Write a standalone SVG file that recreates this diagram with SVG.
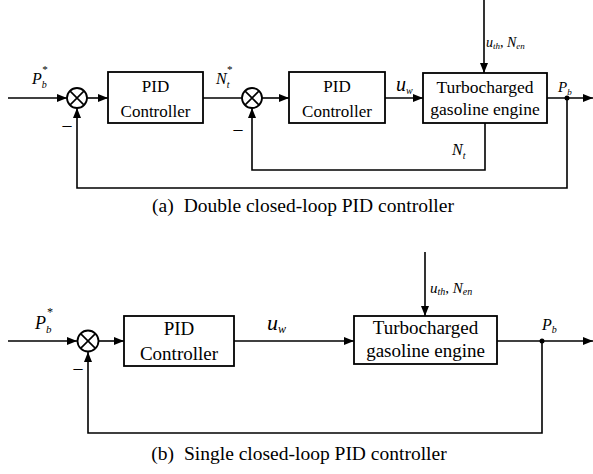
<svg xmlns="http://www.w3.org/2000/svg" width="593" height="474" viewBox="0 0 593 474">
<style>
.ln{fill:none;stroke:#000;stroke-width:1.6}
.ar{fill:none;stroke:#000;stroke-width:1.6;marker-end:url(#ah)}
.bx{fill:#fff;stroke:#000;stroke-width:1.8}
.sj{fill:#fff;stroke:#000;stroke-width:1.8}
.t{font-family:"Liberation Serif","Times New Roman",serif;fill:#000;text-anchor:middle}
.m{font-family:"Liberation Serif","Times New Roman",serif;font-style:italic;fill:#000}
.cap{font-family:"Liberation Serif","Times New Roman",serif;font-size:19.5px;fill:#000;text-anchor:middle}
</style>
<defs>
<marker id="ah" markerWidth="10" markerHeight="8" refX="10" refY="4" orient="auto" markerUnits="userSpaceOnUse">
<path d="M0,0 L10,4 L0,8 Z" fill="#000"/>
</marker>
</defs>
<rect width="593" height="474" fill="#fff"/>

<g id="connectors">
<!-- top diagram -->
<path class="ar" d="M8,98 H67"/>
<path class="ar" d="M87,98 H108"/>
<path class="ln" d="M203,98 H242"/>
<path class="ar" d="M262,98 H289"/>
<path class="ar" d="M385,98 H423"/>
<path class="ar" d="M547,98 H593"/>
<path class="ar" d="M484,0 V73"/>
<path class="ar" d="M567,98 V188 H77 V108"/>
<path class="ar" d="M485,123 V170 H252 V108"/>
<circle cx="567" cy="98" r="2.5" fill="#000"/>
<!-- bottom diagram -->
<path class="ar" d="M8,341 H77"/>
<path class="ar" d="M99,341 H124"/>
<path class="ar" d="M234,341 H354"/>
<path class="ar" d="M497,341 H593"/>
<path class="ar" d="M425,252 V316"/>
<path class="ar" d="M542,341 V433 H88 V352"/>
<circle cx="542" cy="341" r="2.5" fill="#000"/>
</g>

<!-- top diagram nodes -->
<g id="sum1">
<circle class="sj" cx="77" cy="98" r="10"/>
<path class="ln" d="M69.9,90.9 L84.1,105.1 M84.1,90.9 L69.9,105.1"/>
</g>
<g id="pid1">
<rect class="bx" x="108" y="72" width="95" height="51"/>
<text class="t" x="155.5" y="92" font-size="17">PID</text>
<text class="t" x="155.5" y="117" font-size="17">Controller</text>
</g>
<g id="sum2">
<circle class="sj" cx="252" cy="98" r="10"/>
<path class="ln" d="M244.9,90.9 L259.1,105.1 M259.1,90.9 L244.9,105.1"/>
</g>
<g id="pid2">
<rect class="bx" x="289" y="72" width="96" height="51"/>
<text class="t" x="337" y="92" font-size="17">PID</text>
<text class="t" x="337" y="117" font-size="17">Controller</text>
</g>
<g id="engine1">
<rect class="bx" x="423" y="73" width="124" height="50"/>
<text class="t" x="485" y="93" font-size="17.5">Turbocharged</text>
<text class="t" x="485" y="115" font-size="17.5">gasoline engine</text>
</g>

<g id="labels-top">
<text class="m" x="32" y="84" font-size="16">P<tspan font-size="10" dy="4">b</tspan><tspan font-size="11" dx="-5" dy="-15">*</tspan></text>
<text class="m" x="216" y="84" font-size="16">N<tspan font-size="10" dy="4">t</tspan><tspan font-size="11" dx="-3" dy="-15">*</tspan></text>
<text class="m" x="396" y="91" font-size="20">u<tspan font-size="10" dy="3">w</tspan></text>
<text class="m" x="486" y="47" font-size="14">u<tspan font-size="9" dy="2">th</tspan><tspan font-style="normal" dy="-2">, </tspan>N<tspan font-size="9" dy="2">en</tspan></text>
<text class="m" x="558" y="92" font-size="15">P<tspan font-size="9" dy="3">b</tspan></text>
<text class="m" x="452" y="155" font-size="16">N<tspan font-size="10" dy="4">t</tspan></text>
<text class="t" x="67" y="131" font-size="18">–</text>
<text class="t" x="238" y="135" font-size="18">–</text>
</g>

<!-- bottom diagram nodes -->
<g id="sum3">
<circle class="sj" cx="88" cy="341" r="10.5"/>
<path class="ln" d="M80.6,333.6 L95.4,348.4 M95.4,333.6 L80.6,348.4"/>
</g>
<g id="pid3">
<rect class="bx" x="124" y="316" width="110" height="50"/>
<text class="t" x="179" y="335" font-size="19">PID</text>
<text class="t" x="179" y="360" font-size="19">Controller</text>
</g>
<g id="engine2">
<rect class="bx" x="354" y="316" width="143" height="48"/>
<text class="t" x="425.5" y="334" font-size="19">Turbocharged</text>
<text class="t" x="425.5" y="357" font-size="19">gasoline engine</text>
</g>

<g id="labels-bottom">
<text class="m" x="35" y="329" font-size="18">P<tspan font-size="11" dy="4">b</tspan><tspan font-size="12" dx="-5" dy="-17">*</tspan></text>
<text class="m" x="267" y="330" font-size="22">u<tspan font-size="12" dy="3">w</tspan></text>
<text class="m" x="430" y="293" font-size="15">u<tspan font-size="10" dy="2">th</tspan><tspan font-style="normal" dy="-2">, </tspan>N<tspan font-size="10" dy="2">en</tspan></text>
<text class="m" x="542" y="330" font-size="16">P<tspan font-size="10" dy="3">b</tspan></text>
<text class="t" x="78" y="374" font-size="18">–</text>
</g>

<text class="cap" x="303" y="212">(a)<tspan dx="5"> Double closed-loop PID controller</tspan></text>
<text class="cap" x="299" y="460">(b)<tspan dx="5"> Single closed-loop PID controller</tspan></text>
</svg>
